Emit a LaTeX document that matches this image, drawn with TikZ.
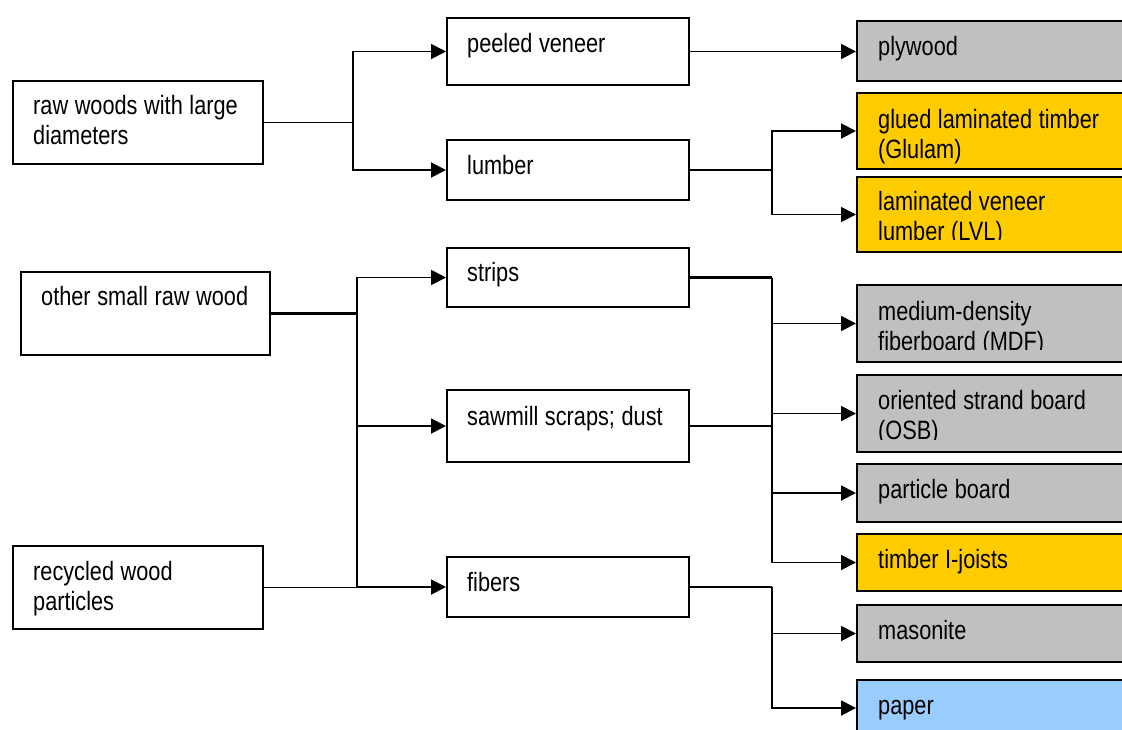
\documentclass[tikz,border=0pt]{standalone}
\usepackage{fontspec}
\setmainfont{Liberation Sans}[FakeStretch=0.82]
\usetikzlibrary{arrows.meta}
\definecolor{boardgray}{HTML}{C0C0C0}
\definecolor{timberorange}{HTML}{FFCC00}
\definecolor{paperblue}{HTML}{99CCFF}
\newcommand{\labelfont}{\fontsize{26.5}{30}\selectfont}
\begin{document}
\begin{tikzpicture}[x=1pt,y=-1pt,
  box/.style={draw=black, line width=2pt, rectangle, inner sep=0pt, anchor=north west},
  srcbox/.style={box, minimum width=250pt, minimum height=83pt},
  midbox/.style={box, minimum width=242pt},
  prodbox/.style={box, minimum width=290pt},
  lbl/.style={anchor=base west, inner sep=0pt, text width=270pt, align=flush left,
              font=\labelfont, execute at begin node={\spaceskip=6.6pt plus 1pt minus 1pt\relax}},
  link/.style={line width=1.9pt},
  thicklink/.style={line width=2.7pt},
  arr/.style={line width=1.9pt, -{Triangle[length=15pt,width=15pt]}},
]
\useasboundingbox (0,0) rectangle (1122,729);
\clip (0,0) rectangle (1122,729);

% raw materials
\node[srcbox] (raw) at (12,80) {};
\node[srcbox, minimum width=249pt] (osr) at (20,271) {};
\node[srcbox] (rec) at (12,545) {};

% intermediate products
\node[midbox, minimum height=67pt] (pv)  at (446,17) {};
\node[midbox, minimum height=60pt] (lum) at (446,139) {};
\node[midbox, minimum height=59pt] (str) at (446,247) {};
\node[midbox, minimum height=72pt] (saw) at (446,389) {};
\node[midbox, minimum height=60pt] (fib) at (446,556) {};

% final products
\node[prodbox, fill=boardgray,    minimum height=60pt] (ply) at (856,20)  {};
\node[prodbox, fill=timberorange, minimum height=76pt] (glu) at (856,92)  {};
\node[prodbox, fill=timberorange, minimum height=75pt] (lvl) at (856,176) {};
\node[prodbox, fill=boardgray,    minimum height=77pt] (mdf) at (856,284) {};
\node[prodbox, fill=boardgray,    minimum height=77pt] (osb) at (856,374) {};
\node[prodbox, fill=boardgray,    minimum height=58pt] (pb)  at (856,463) {};
\node[prodbox, fill=timberorange, minimum height=57pt] (tij) at (856,533) {};
\node[prodbox, fill=boardgray,    minimum height=57pt] (mas) at (856,604) {};
\node[prodbox, fill=paperblue,    minimum height=56pt] (pap) at (856,679) {};

% labels
\node[lbl] (rawT) at ([xshift=21pt,yshift=-34pt]raw.north west) {raw woods with large\\diameters};
\node[lbl] (osrT) at ([xshift=21pt,yshift=-34pt]osr.north west) {other small raw wood};
\node[lbl] (recT) at ([xshift=21pt,yshift=-35pt]rec.north west) {recycled wood\\particles};

\node[lbl] (pvT)  at ([xshift=21pt,yshift=-35pt]pv.north west)  {peeled veneer};
\node[lbl] (lumT) at ([xshift=21pt,yshift=-35pt]lum.north west) {lumber};
\node[lbl] (strT) at ([xshift=21pt,yshift=-34pt]str.north west) {strips};
\node[lbl] (sawT) at ([xshift=21pt,yshift=-36pt]saw.north west) {sawmill scraps; dust};
\node[lbl] (fibT) at ([xshift=21pt,yshift=-35pt]fib.north west) {fibers};

\node[lbl] (plyT) at ([xshift=22pt,yshift=-35pt]ply.north west) {plywood};
\node[lbl] (gluT) at ([xshift=22pt,yshift=-36pt]glu.north west) {glued laminated timber\\(Glulam)};
% long labels are cut off by the lower edge of their box
\begin{scope}
  \clip ([yshift=14pt]lvl.south west) rectangle (lvl.north east);
  \node[lbl] (lvlT) at ([xshift=22pt,yshift=-34pt]lvl.north west) {laminated veneer\\lumber (LVL)};
\end{scope}
\begin{scope}
  \clip ([yshift=14pt]mdf.south west) rectangle (mdf.north east);
  \node[lbl] (mdfT) at ([xshift=22pt,yshift=-36pt]mdf.north west) {medium-density\\fiberboard (MDF)};
\end{scope}
\begin{scope}
  \clip ([yshift=14pt]osb.south west) rectangle (osb.north east);
  \node[lbl] (osbT) at ([xshift=22pt,yshift=-35pt]osb.north west) {oriented strand board\\(OSB)};
\end{scope}
\node[lbl] (pbT)  at ([xshift=22pt,yshift=-35pt]pb.north west)  {particle board};
\node[lbl] (tijT) at ([xshift=22pt,yshift=-35pt]tij.north west) {timber I-joists};
\node[lbl] (masT) at ([xshift=22pt,yshift=-35pt]mas.north west) {masonite};
\node[lbl] (papT) at ([xshift=22pt,yshift=-35pt]pap.north west) {paper};

% columns of the vertical connector trunks
\coordinate (colA) at (353,0);
\coordinate (colB) at (357,0);
\coordinate (colC) at (772,0);

% junction points of the connector trees
\coordinate (jRaw) at (raw.east -| colA);
\coordinate (jSmall) at (osr.east -| colB);
\coordinate (jRec) at (rec.east -| colB);
\coordinate (jLum) at (lum.east -| colC);
\coordinate (jStr) at (str.east -| colC);
\coordinate (jSaw) at (saw.east -| colC);
\coordinate (jFib) at (fib.east -| colC);

% large raw wood
\draw[link] (raw.east) -- (jRaw);
\draw[arr] (jRaw) |- (pv.west);
\draw[arr] (jRaw) |- (lum.west);
\draw[arr] (pv.east) -- (pv.east -| ply.west);
\draw[link] (lum.east) -- (jLum);
\draw[arr] (jLum) |- (glu.west);
\draw[arr] (jLum) |- (lvl.west);

% small raw wood and recycled particles
\draw[thicklink] (osr.east) -- (jSmall);
\draw[link] (rec.east) -- (jRec);
\draw[arr] (jSmall) |- (str.west);
\draw[arr] (jSmall) |- (saw.west);
\draw[arr] (jSmall) |- (fib.west);
\draw[thicklink] (jSmall) -- (jRec);

% strips and sawmill residues to panels
\draw[thicklink] (str.east) -- (jStr);
\draw[link] (saw.east) -- (jSaw);
\draw[arr] (jStr) |- (mdf.west);
\draw[arr] (jStr) |- (osb.west);
\draw[arr] (jStr) |- (pb.west);
\draw[arr] (jStr) |- (tij.west);
\draw[thicklink] (jStr) -- (pb.west -| colC);

% fibers
\draw[link] (fib.east) -- (jFib);
\draw[arr] (jFib) |- (mas.west);
\draw[arr] (jFib) |- (pap.west);
\end{tikzpicture}
\end{document}
